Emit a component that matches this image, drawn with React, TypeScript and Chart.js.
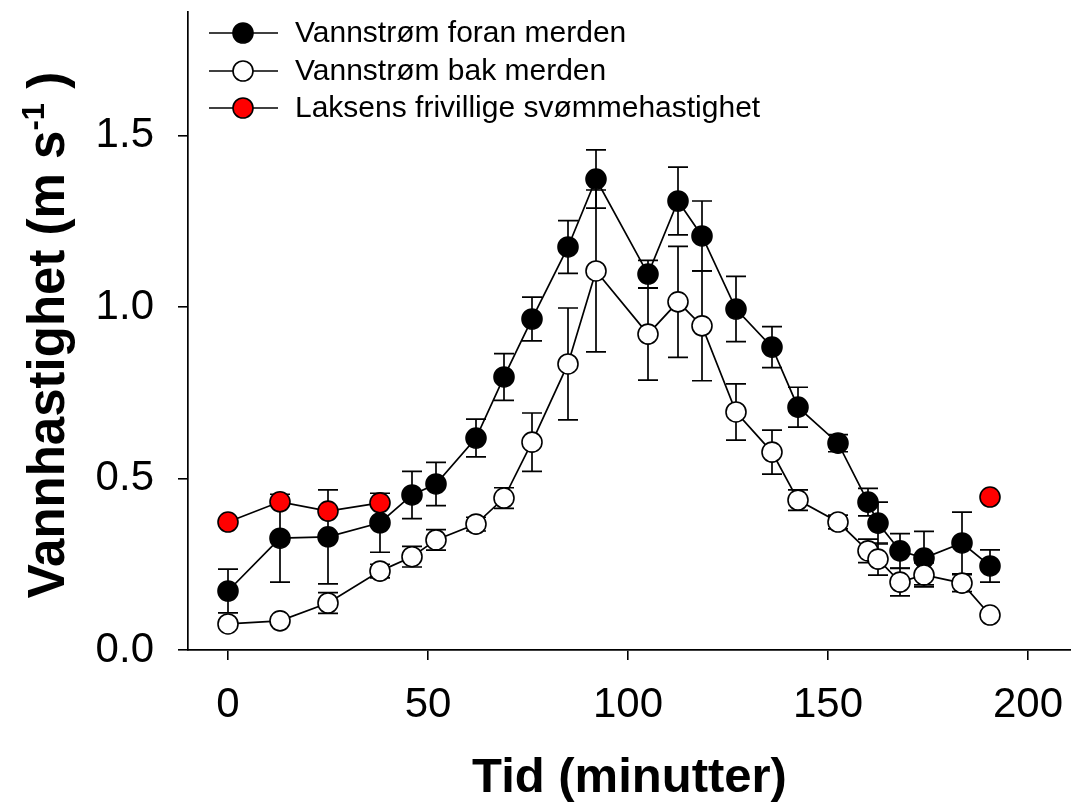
import React, { useEffect, useRef } from "react";
import { Chart, registerables } from "chart.js";

Chart.register(...registerables);

// Time (minutes)
const timeMinutes = [0, 13, 25, 38, 46, 52, 62, 69, 76, 85, 92, 105, 112.5, 118.5, 127, 136, 142.5, 152.5, 160, 162.5, 168, 174, 183.5, 190.5];

// Vannstrøm foran merden (mean, ± error)
const foranValues = [0.172, 0.326, 0.33, 0.371, 0.452, 0.484, 0.618, 0.796, 0.965, 1.175, 1.373, 1.096, 1.309, 1.207, 0.994, 0.883, 0.708, 0.603, 0.431, 0.37, 0.289, 0.268, 0.312, 0.245];
const foranErrors = [0.064, 0.128, 0.137, 0.086, 0.069, 0.063, 0.055, 0.068, 0.064, 0.077, 0.085, 0.04, 0.099, 0.102, 0.095, 0.06, 0.058, 0.025, 0.04, 0.061, 0.05, 0.078, 0.09, 0.047];

// Vannstrøm bak merden (mean, ± error)
const bakValues = [0.076, 0.085, 0.137, 0.23, 0.272, 0.321, 0.367, 0.443, 0.606, 0.834, 1.105, 0.921, 1.015, 0.945, 0.694, 0.577, 0.437, 0.373, 0.289, 0.265, 0.198, 0.219, 0.195, 0.102];
const bakErrors = [0.01, 0.01, 0.03, 0.02, 0.03, 0.03, 0.02, 0.03, 0.085, 0.163, 0.236, 0.134, 0.162, 0.16, 0.082, 0.064, 0.03, 0.02, 0.034, 0.047, 0.04, 0.035, 0.025, 0.01];

// Laksens frivillige svømmehastighet (null = gap in line)
const laksTimes = [0, 13, 25, 38, 114, 190.5];
const laksValues: (number | null)[] = [0.373, 0.432, 0.405, 0.429, null, 0.446];

const xTicks = [0, 50, 100, 150, 200];
const yTicks = [0, 0.5, 1.0, 1.5];

const seriesLabels = ["Vannstrøm foran merden", "Vannstrøm bak merden", "Laksens frivillige svømmehastighet"];
const seriesFill = ["#000000", "#ffffff", "#ff0000"];

const FONT = "'Liberation Sans', Arial, Helvetica, sans-serif";

const errorBarPlugin = {
  id: "errorBars",
  beforeDatasetDraw(chart: any, args: any) {
    const ds = chart.data.datasets[args.index];
    const errs: number[] | undefined = ds.errors;
    if (!errs) return;
    const meta = chart.getDatasetMeta(args.index);
    const ys = chart.scales.y;
    const ctx = chart.ctx;
    ctx.save();
    ctx.strokeStyle = "#000";
    ctx.lineWidth = 1.7;
    meta.data.forEach((pt: any, i: number) => {
      const v = ds.data[i]?.y;
      const e = errs[i];
      if (v == null || !e) return;
      const x = pt.x;
      const yt = ys.getPixelForValue(v + e);
      const yb = ys.getPixelForValue(v - e);
      ctx.beginPath();
      ctx.moveTo(x, yt);
      ctx.lineTo(x, yb);
      ctx.moveTo(x - 10, yt);
      ctx.lineTo(x + 10, yt);
      ctx.moveTo(x - 10, yb);
      ctx.lineTo(x + 10, yb);
      ctx.stroke();
    });
    ctx.restore();
  },
};

const decorPlugin = {
  id: "decor",
  afterDraw(chart: any) {
    const ctx = chart.ctx;
    const area = chart.chartArea;
    ctx.save();
    // Legend
    const rows = [33, 71, 108];
    seriesLabels.forEach((label, i) => {
      const y = rows[i];
      ctx.strokeStyle = "#000";
      ctx.lineWidth = 1.6;
      ctx.beginPath();
      ctx.moveTo(area.left + 21, y);
      ctx.lineTo(area.left + 90, y);
      ctx.stroke();
      ctx.beginPath();
      ctx.arc(area.left + 55, y, 10, 0, Math.PI * 2);
      ctx.fillStyle = seriesFill[i];
      ctx.fill();
      ctx.stroke();
      ctx.fillStyle = "#000";
      ctx.font = `30px ${FONT}`;
      ctx.textAlign = "left";
      ctx.textBaseline = "middle";
      ctx.fillText(label, area.left + 107, y + 1);
    });
    // Y axis title with superscript
    const cy = (area.top + area.bottom) / 2 + 4;
    const main = "Vannhastighet (m s";
    const sup = "-1";
    const tail = " )";
    const bigFont = `bold 51px ${FONT}`;
    const supFont = `bold 31px ${FONT}`;
    ctx.font = bigFont;
    const wMain = ctx.measureText(main).width;
    const wTail = ctx.measureText(tail).width;
    ctx.font = supFont;
    const wSup = ctx.measureText(sup).width;
    const total = wMain + wSup + wTail;
    ctx.translate(64, cy);
    ctx.rotate(-Math.PI / 2);
    ctx.textAlign = "left";
    ctx.textBaseline = "alphabetic";
    ctx.fillStyle = "#000";
    let x0 = -total / 2;
    ctx.font = bigFont;
    ctx.fillText(main, x0, 0);
    x0 += wMain;
    ctx.font = supFont;
    ctx.fillText(sup, x0, -20);
    x0 += wSup;
    ctx.font = bigFont;
    ctx.fillText(tail, x0, 0);
    ctx.restore();
  },
};

export default function App() {
  const canvasRef = useRef<HTMLCanvasElement | null>(null);

  useEffect(() => {
    if (!canvasRef.current) return;
    const foranData = timeMinutes.map((t, i) => ({ x: t, y: foranValues[i] }));
    const bakData = timeMinutes.map((t, i) => ({ x: t, y: bakValues[i] }));
    const laksData = laksTimes.map((t, i) => ({ x: t, y: laksValues[i] }));

    const pointStyle = (fill: string) => ({
      borderColor: "#000",
      borderWidth: 1.7,
      pointRadius: 10,
      pointHoverRadius: 10,
      pointBackgroundColor: fill,
      pointBorderColor: "#000",
      pointBorderWidth: 1.6,
      backgroundColor: fill,
      fill: false,
      tension: 0,
      spanGaps: false,
    });

    const chart = new Chart(canvasRef.current, {
      type: "line",
      data: {
        datasets: [
          { label: seriesLabels[0], data: foranData, errors: foranErrors, order: 3, ...pointStyle(seriesFill[0]) } as any,
          { label: seriesLabels[1], data: bakData, errors: bakErrors, order: 2, ...pointStyle(seriesFill[1]) } as any,
          { label: seriesLabels[2], data: laksData, order: 1, ...pointStyle(seriesFill[2]) } as any,
        ],
      },
      options: {
        animation: false,
        responsive: false,
        maintainAspectRatio: false,
        devicePixelRatio: 1,
        layout: { autoPadding: false, padding: { top: 12, left: 0, right: 0, bottom: 0 } },
        plugins: { legend: { display: false }, tooltip: { enabled: false } },
        scales: {
          x: {
            type: "linear",
            min: -10,
            max: 210.75,
            afterFit: (s: any) => { s.height = 158; s.paddingLeft = 0; s.paddingRight = 0; },
            afterBuildTicks: (s: any) => { s.ticks = xTicks.map((v) => ({ value: v })); },
            grid: { display: true, drawOnChartArea: false, drawTicks: true, tickLength: 10, color: "#000", lineWidth: 1.6 },
            border: { display: true, color: "#000", width: 1.7 },
            ticks: { color: "#000", font: { family: FONT, size: 42 }, padding: 20, maxRotation: 0, callback: (v: any) => String(v) },
            title: { display: true, text: "Tid (minutter)", color: "#000", font: { family: FONT, size: 49, weight: "bold" }, padding: { top: 0, bottom: 0 } },
          },
          y: {
            type: "linear",
            min: 0,
            max: 1.86,
            afterFit: (s: any) => { s.width = 188; s.paddingTop = 0; s.paddingBottom = 0; },
            afterBuildTicks: (s: any) => { s.ticks = yTicks.map((v) => ({ value: v })); },
            grid: { display: true, drawOnChartArea: false, drawTicks: true, tickLength: 10, color: "#000", lineWidth: 1.6 },
            border: { display: true, color: "#000", width: 1.7 },
            ticks: { color: "#000", font: { family: FONT, size: 42 }, padding: 24, callback: (v: any) => Number(v).toFixed(1) },
          },
        },
      } as any,
      plugins: [errorBarPlugin, decorPlugin],
    });
    return () => chart.destroy();
  }, []);

  return (
    <div style={{ position: "absolute", left: 0, top: 0, width: 1071, height: 808, background: "#fff", overflow: "hidden" }}>
      <canvas ref={canvasRef} width={1071} height={808} style={{ display: "block", width: 1071, height: 808 }} />
    </div>
  );
}
